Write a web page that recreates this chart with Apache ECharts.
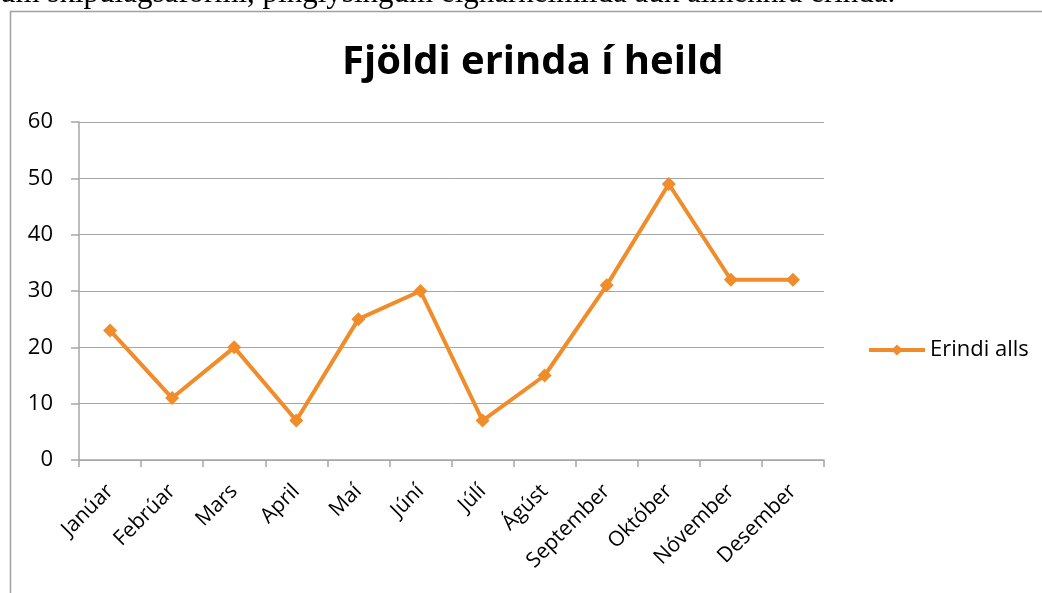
<!DOCTYPE html>
<html>
<head>
<meta charset="utf-8">
<script src="https://cdn.jsdelivr.net/npm/echarts@6/dist/echarts.min.js"></script>
<style>
  html, body { margin: 0; padding: 0; background: #fff; }
  #chart { width: 1042px; height: 593px; }
</style>
</head>
<body>
<div id="chart"></div>
<script>
// gögn lesin af myndinni
const months = ['Janúar', 'Febrúar', 'Mars', 'April', 'Maí', 'Júní', 'Júlí', 'Ágúst', 'September', 'Október', 'Nóvember', 'Desember'];
const erindi = [23, 11, 20, 7, 25, 30, 7, 15, 31, 49, 32, 32];
const seriesName = 'Erindi alls';
const titleText = 'Fjöldi erinda í heild';
const topLine = 'um skipulagsáformi, þinglýsingum eignarheimilda auk almennra erinda.';

const orange = '#F08C2A';
const gray = '#A6A6A6';

let chart = echarts.init(document.getElementById('chart'));

var option = {
  animation: false,
  title: {
    text: titleText,
    left: 337,
    top: 38,
    textStyle: { fontFamily: 'Open Sans', fontWeight: 'bold', fontSize: 40, color: '#000' }
  },
  graphic: [
    {
      type: 'text',
      left: 0,
      top: -22,
      style: { text: topLine, font: '31px "Liberation Serif"', fill: '#000' }
    },
    {
      type: 'rect',
      shape: { x: 10.5, y: 11.5, width: 1040, height: 600 },
      style: { fill: 'none', stroke: '#A0A0A0', lineWidth: 1.5 },
      z: -1
    }
  ],
  legend: {
    data: [seriesName],
    left: 862,
    top: 334,
    itemWidth: 56,
    itemHeight: 14,
    itemGap: 4,
    lineStyle: { width: 4 },
    textStyle: { fontFamily: 'Open Sans', fontSize: 22, color: '#000' }
  },
  grid: { left: 79, top: 122, right: 218, bottom: 133 },
  xAxis: {
    type: 'category',
    data: months,
    boundaryGap: true,
    axisLine: { lineStyle: { color: gray, width: 1.5 } },
    axisTick: { show: true, length: 7, lineStyle: { color: gray, width: 1.5 } },
    axisLabel: {
      rotate: 45,
      margin: 28,
      interval: 0,
      fontFamily: 'Open Sans',
      fontSize: 21,
      color: '#000'
    }
  },
  yAxis: {
    type: 'value',
    min: 0,
    max: 60,
    interval: 10,
    axisLine: { show: true, lineStyle: { color: gray, width: 1.5 } },
    axisTick: { show: true, length: 8, lineStyle: { color: gray, width: 1.5 } },
    splitLine: { lineStyle: { color: gray, width: 1 } },
    axisLabel: { margin: 26, fontFamily: 'Open Sans', fontSize: 22, color: '#000' }
  },
  series: [
    {
      name: seriesName,
      type: 'line',
      data: erindi,
      symbol: 'diamond',
      symbolSize: 14,
      lineStyle: { color: orange, width: 4 },
      itemStyle: { color: orange }
    }
  ]
};
chart.setOption(option);
</script>
</body>
</html>
